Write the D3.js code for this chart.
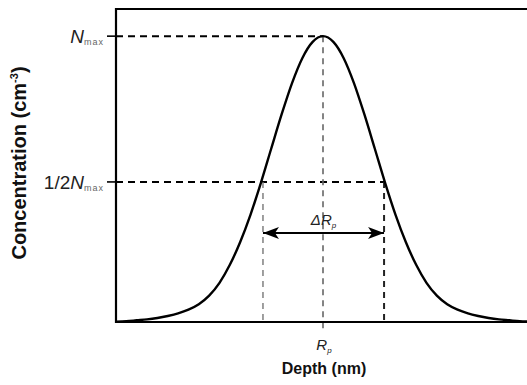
<!DOCTYPE html>
<html><head><meta charset="utf-8">
<script src="https://cdn.jsdelivr.net/npm/d3@7/dist/d3.min.js"></script>
<style>
html,body{margin:0;padding:0;background:#fff;}
svg{display:block;font-family:"Liberation Sans",Arial,sans-serif;}
</style></head><body>
<svg id="c" width="527" height="385"></svg>
<script>
// Data
const depth = [0,5,10,15,20,25,30,35,40,45,50,55,60,65,70,75,80,85,90,95,100,
  105,110,115,120,125,130,135,140,145,150,155,160,165,170,175,180,185,190,195,200];
const concentration = [0.001,0.003,0.006,0.009,0.014,0.021,0.03,0.043,0.062,0.092,0.137,0.2,0.28,0.376,0.487,0.607,0.726,0.835,0.923,0.98,1.0,
  0.98,0.923,0.835,0.726,0.607,0.487,0.376,0.28,0.2,0.137,0.092,0.062,0.043,0.03,0.021,0.014,0.009,0.006,0.003,0.001];
const levelValues = [1.0, 0.49];          // N_max, 1/2 N_max
const levelLabels = ["", "1/2"];
const Rp = 100;                            // projected range
const halfPoints = [71, 129.5];            // FWHM crossing depths
const xTitle = "Depth (nm)";
const yTitle = "Concentration (cm";

const svg = d3.select("#c");
const x = d3.scaleLinear().domain([0, 200]).range([116, 530]);
const y = d3.scaleLinear().domain([0, 1.095]).range([322, 9]);

// defs arrow
const defs = svg.append("defs");
["s","e"].forEach(k=>{
  defs.append("marker").attr("id","arr"+k).attr("viewBox","0 0 16 12")
    .attr("refX", k==="e"?16:0).attr("refY",6).attr("markerWidth",16).attr("markerHeight",12)
    .attr("markerUnits","userSpaceOnUse").attr("orient","auto")
    .append("path").attr("d", k==="e" ? "M0,0 L16,6 L0,12 L4,6 Z" : "M16,0 L0,6 L16,12 L12,6 Z")
    .attr("fill","#000");
});

// guides
const g = svg.append("g");
g.append("line").attr("x1",x(0)).attr("x2",x(Rp)).attr("y1",y(levelValues[0])).attr("y2",y(levelValues[0]))
  .attr("stroke","#000").attr("stroke-width",2).attr("stroke-dasharray","7,5");
g.append("line").attr("x1",x(0)).attr("x2",x(halfPoints[1])).attr("y1",y(levelValues[1])).attr("y2",y(levelValues[1]))
  .attr("stroke","#000").attr("stroke-width",2).attr("stroke-dasharray","7,5");
g.append("line").attr("x1",x(Rp)).attr("x2",x(Rp)).attr("y1",y(levelValues[0])).attr("y2",y(0)+9)
  .attr("stroke","#666").attr("stroke-width",1.6).attr("stroke-dasharray","6,5");
g.append("line").attr("x1",x(halfPoints[0])).attr("x2",x(halfPoints[0])).attr("y1",y(levelValues[1])).attr("y2",y(0))
  .attr("stroke","#777").attr("stroke-width",1.4).attr("stroke-dasharray","6,5");
g.append("line").attr("x1",x(halfPoints[1])).attr("x2",x(halfPoints[1])).attr("y1",y(levelValues[1])).attr("y2",y(0))
  .attr("stroke","#222").attr("stroke-width",2).attr("stroke-dasharray","6,5");

// arrow
g.append("line").attr("x1",x(halfPoints[0])).attr("x2",x(halfPoints[1])).attr("y1",233).attr("y2",233)
  .attr("stroke","#000").attr("stroke-width",2.2)
  .attr("marker-start","url(#arrs)").attr("marker-end","url(#arre)");

// curve
const line = d3.line().x((d,i)=>x(depth[i])).y(d=>y(d)).curve(d3.curveMonotoneX);
svg.append("path").datum(concentration).attr("d",line).attr("fill","none")
  .attr("stroke","#000").attr("stroke-width",2.4);

// frame
svg.append("path").attr("d",`M${x(200)+3},${y(1.095)} H${x(0)} V${y(0)} H${x(200)+3}`)
  .attr("fill","none").attr("stroke","#000").attr("stroke-width",2.2);

// left ticks
levelValues.forEach(v=>{
  svg.append("line").attr("x1",x(0)-9).attr("x2",x(0)).attr("y1",y(v)).attr("y2",y(v))
    .attr("stroke","#000").attr("stroke-width",1.6);
});

// level labels
levelValues.forEach((v,i)=>{
  const t = svg.append("text").attr("x",104).attr("y",y(v)+7).attr("text-anchor","end")
    .attr("font-size",19).attr("fill","#222");
  if(levelLabels[i]) t.append("tspan").text(levelLabels[i]);
  t.append("tspan").attr("font-style","italic").text("N");
  t.append("tspan").attr("font-size",9).attr("dy",2).attr("letter-spacing",1).attr("fill","#666").text("max");
});

// Delta Rp label
const dl = svg.append("text").attr("x",(x(halfPoints[0])+x(halfPoints[1]))/2).attr("y",225)
  .attr("text-anchor","middle").attr("font-size",15).attr("font-style","italic").attr("fill","#222");
dl.append("tspan").text("ΔR");
dl.append("tspan").attr("font-size",8).attr("dy",3).text("p");

// Rp label
const rl = svg.append("text").attr("x",x(Rp)+1).attr("y",350).attr("text-anchor","middle")
  .attr("font-size",15).attr("font-style","italic").attr("fill","#222");
rl.append("tspan").text("R");
rl.append("tspan").attr("font-size",8).attr("dy",3).text("p");

// axis titles
svg.append("text").attr("x",x(Rp)+1).attr("y",374).attr("text-anchor","middle")
  .attr("font-size",16).attr("font-weight","bold").attr("fill","#111").text(xTitle);
const yt = svg.append("text").attr("transform","translate(26,163) rotate(-90)").attr("text-anchor","middle")
  .attr("font-size",20).attr("font-weight","bold").attr("fill","#111");
yt.append("tspan").text(yTitle);
yt.append("tspan").attr("font-size",11).attr("dy",-8).text("-3");
yt.append("tspan").attr("dy",8).text(")");
</script>
</body></html>
